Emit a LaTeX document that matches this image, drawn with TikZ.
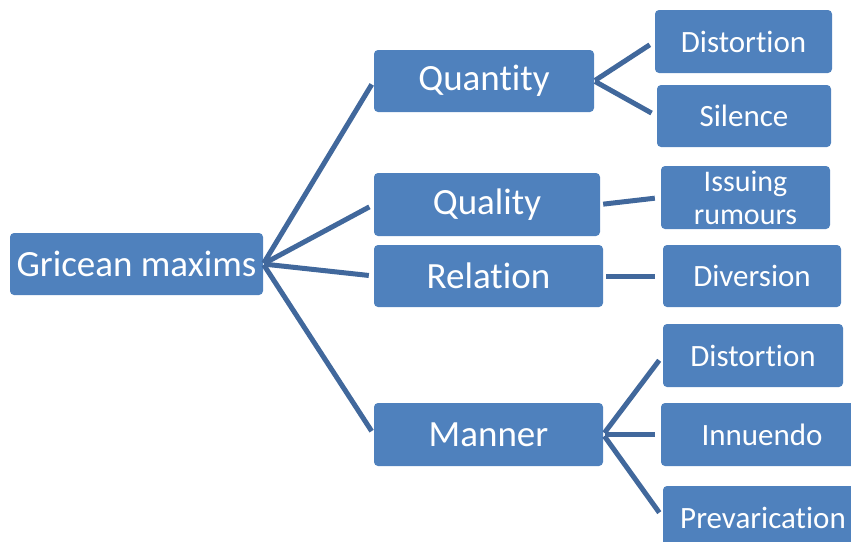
\documentclass[tikz,border=0pt]{standalone}
\usepackage{fontspec}
\setmainfont[Ligatures={NoCommon,NoContextual},RawFeature={-liga;-calt;-clig}]{Carlito}
\usetikzlibrary{positioning}
\definecolor{boxblue}{HTML}{4F81BD}
\definecolor{lineblue}{HTML}{41689C}

\begin{document}
\begin{tikzpicture}[x=1pt, y=-1pt,
  box/.style={rectangle, fill=boxblue, rounded corners=4pt, text=white, inner sep=0pt},
  maxim/.style={box, minimum height=62pt, font=\fontsize{37}{40}\selectfont},
  tactic/.style={box, minimum height=63pt, font=\fontsize{31}{33}\selectfont},
  link/.style={draw=lineblue, line width=5pt}]
\clip (0,0) rectangle (851,541);
\node at (136.5,264) [maxim, name=Gricean, minimum width=253pt]{Gricean maxims};
\node at (484,81) [maxim, name=Quantity, minimum width=220pt]{Quantity};
\node at (487,204.5) [maxim, name=Quality, minimum width=226pt, minimum height=63pt]{Quality};
\node at (488.5,276) [maxim, name=Relation, minimum width=229pt]{Relation};
\node at (488.5,434.5) [maxim, name=Manner, minimum width=229pt, minimum height=63pt]{Manner};
\node at (743.5,41.5) [tactic, name=DistortA, minimum width=177pt]{Distortion};
\node at (744,116) [tactic, name=Silence, minimum width=174pt, minimum height=62pt]{Silence};
\node at (745.5,197.5) [tactic, name=Issuing, minimum width=169pt, align=center,
  font=\fontsize{30}{33}\selectfont]{Issuing\\rumours};
\node at (752,276) [tactic, name=Diversion, minimum width=178pt, minimum height=62pt]{Diversion};
\node at (753,355.5) [tactic, name=DistortB, minimum width=180pt]{Distortion};
\node at (762,434.5) [tactic, name=Innuendo, minimum width=202pt]{Innuendo};
\node at (763,517.5) [tactic, name=Prevarication, minimum width=200pt]{Prevarication};
% branches
\draw [link, shorten <=1pt, shorten >=4pt] (Gricean.east) -- (Quantity.west);
\draw [link, shorten <=1pt, shorten >=5pt] (Gricean.east) -- (Quality.west);
\draw [link, shorten <=1pt, shorten >=5pt] (Gricean.east) -- (Relation.west);
\draw [link, shorten <=1pt, shorten >=4pt] (Gricean.east) -- (Manner.west);
\draw [link, shorten <=1pt, shorten >=6pt] (Quantity.east) -- (DistortA.west);
\draw [link, shorten <=1pt, shorten >=6pt] (Quantity.east) -- (Silence.west);
\draw [link, shorten <=3pt, shorten >=6pt] (Quality.east) -- (Issuing.west);
\draw [link, shorten <=3pt, shorten >=8pt] (Relation.east) -- (Diversion.west);
\draw [link, shorten <=2pt, shorten >=6pt] (Manner.east) -- (DistortB.west);
\draw [link, shorten <=2pt, shorten >=6pt] (Manner.east) -- (Innuendo.west);
\draw [link, shorten <=2pt, shorten >=6pt] (Manner.east) -- (Prevarication.west);
\end{tikzpicture}
\end{document}
